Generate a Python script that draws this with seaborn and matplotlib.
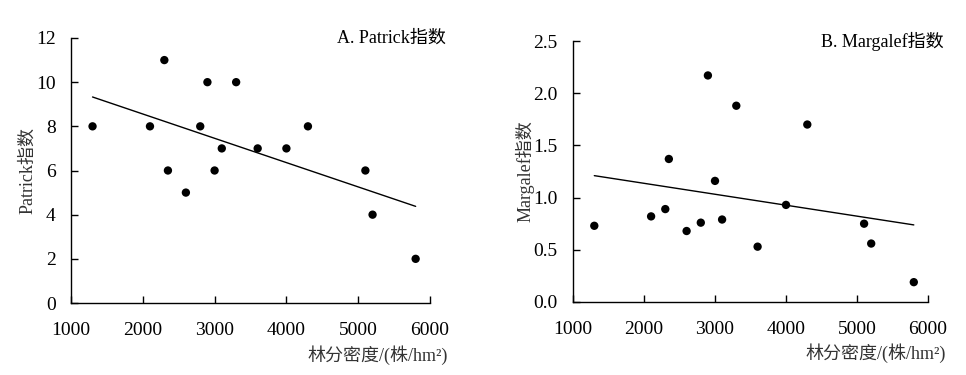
import matplotlib
matplotlib.use("Agg")
import matplotlib.pyplot as plt
import seaborn as sns
import pandas as pd

density = [1300, 2100, 2300, 2350, 2600, 2800, 2900, 3000, 3100, 3300, 3600, 4000, 4300, 5100, 5200, 5800]
patrick = [8, 8, 11, 6, 5, 8, 10, 6, 7, 10, 7, 7, 8, 6, 4, 2]
density_b = [1300, 2100, 2300, 2350, 2600, 2800, 2900, 3000, 3100, 3300, 3600, 4000, 4300, 5100, 5200, 5800]
margalef = [0.73, 0.82, 0.89, 1.37, 0.68, 0.76, 2.17, 1.16, 0.79, 1.88, 0.53, 0.93, 1.70, 0.75, 0.56, 0.19]

x_ticks = [1000, 2000, 3000, 4000, 5000, 6000]
ya_ticks = [0, 2, 4, 6, 8, 10, 12]
yb_ticks = [0.0, 0.5, 1.0, 1.5, 2.0, 2.5]
xlabel = "林分密度/(株/hm²)"
titles = ["A. Patrick指数", "B. Margalef指数"]
ylabels = ["Patrick指数", "Margalef指数"]

sns.set_theme(style="ticks")
plt.rcParams['font.family'] = ['Liberation Serif', 'Noto Sans CJK SC']
plt.rcParams['axes.unicode_minus'] = False

dfa = pd.DataFrame({"x": density, "y": patrick})
dfb = pd.DataFrame({"x": density_b, "y": margalef})

fig = plt.figure(figsize=(9.66, 3.75), dpi=100)
W, H = 966, 375
axa = fig.add_axes([71 / W, 1 - 303 / H, 359 / W, 265 / H])
axb = fig.add_axes([573 / W, 1 - 302 / H, 355 / W, 261 / H])

for ax, df, yt, ylab, title, fmt, ylx in [
    (axa, dfa, ya_ticks, ylabels[0], titles[0], "{:.0f}", -0.12),
    (axb, dfb, yb_ticks, ylabels[1], titles[1], "{:.1f}", -0.135),
]:
    sns.regplot(data=df, x="x", y="y", ax=ax, ci=None, color="black",
                scatter_kws=dict(s=36, color="black", edgecolor="none", alpha=1, zorder=3),
                line_kws=dict(color="black", lw=1.0))
    ax.set_xlim(1000, 6000)
    ax.set_ylim(yt[0], yt[-1])
    ax.set_xticks(x_ticks)
    ax.set_yticks(yt)
    ax.set_yticklabels([fmt.format(v) for v in yt])
    ax.tick_params(direction="in", length=5, width=1, labelsize=14, colors="black")
    ax.tick_params(axis="y", pad=11)
    ax.tick_params(axis="x", pad=14)
    for s in ["top", "right"]:
        ax.spines[s].set_visible(False)
    for s in ["left", "bottom"]:
        ax.spines[s].set_color("black")
        ax.spines[s].set_linewidth(1)
    ax.set_xlabel(xlabel, fontsize=13, color="#333333", ha="right")
    ax.xaxis.set_label_coords(1.05, -0.16)
    ax.set_ylabel(ylab, fontsize=13, color="#333333", va="center")
    ax.yaxis.set_label_coords(ylx, 0.5)
    ax.text(1.045, 1.0, title, transform=ax.transAxes, ha="right", va="center",
            fontsize=13, color="black")

fig.savefig("out.png", dpi=100)
